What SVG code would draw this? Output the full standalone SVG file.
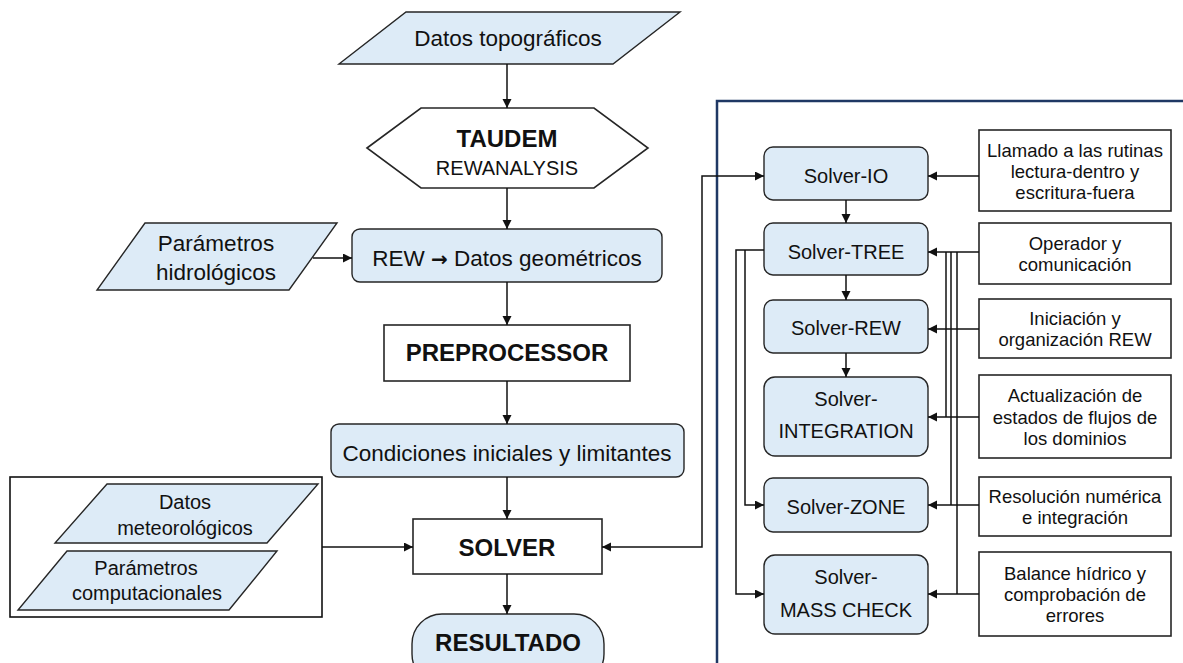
<svg xmlns="http://www.w3.org/2000/svg" width="1183" height="663" viewBox="0 0 1183 663">
<style>
.bl{fill:#DDEBF7;stroke:#262626;stroke-width:1.4}
.wh{fill:#fff;stroke:#262626;stroke-width:1.6}
.t{font-family:"Liberation Sans",Arial,sans-serif;fill:#111;text-anchor:middle}
.m{font-size:22.5px}
.g{font-size:20px}
.b{font-size:24px;font-weight:bold}
.s{font-size:20px}
.r{font-size:18.5px}
.c{fill:none;stroke:#111;stroke-width:1.5}
</style>
<defs>
<marker id="ah" markerUnits="userSpaceOnUse" markerWidth="10" markerHeight="10" refX="9" refY="4.5" orient="auto-start-reverse">
<path d="M0,0 L9,4.5 L0,9 z" fill="#111"/>
</marker>
</defs>
<rect width="1183" height="663" fill="#fff"/>
<g id="frame"><rect x="717" y="101" width="500" height="600" fill="none" stroke="#1F3864" stroke-width="2.5"/></g>

<g id="datos-topo"><polygon class="bl" points="406,12 680,12 613,64 339,64"/><text class="t m" x="508" y="46">Datos topográficos</text></g>
<g id="taudem"><polygon class="wh" points="367,148 421,108 594,108 648,148 594,188 421,188"/><text class="t b" x="507" y="147">TAUDEM</text><text class="t s" x="507" y="175">REWANALYSIS</text></g>
<g id="param-hidro"><polygon class="bl" points="145,223 337,223 289,290 97,290"/><text class="t m" x="216" y="251">Parámetros</text><text class="t m" x="216" y="280">hidrológicos</text></g>
<g id="rew"><rect class="bl" x="352" y="229" width="310" height="53" rx="8"/><text class="t m" x="507" y="266">REW <tspan font-family="'DejaVu Sans',sans-serif" font-weight="bold" font-size="20px">→</tspan> Datos geométricos</text></g>
<g id="preprocessor"><rect class="wh" x="384" y="325" width="246" height="56"/><text class="t b" x="507" y="361">PREPROCESSOR</text></g>
<g id="condiciones"><rect class="bl" x="331" y="424" width="353" height="53" rx="8"/><text class="t m" x="507" y="461">Condiciones iniciales y limitantes</text></g>
<g id="grupo-entradas"><rect x="10" y="477" width="312" height="140" fill="#fff" stroke="#111" stroke-width="1.6"/>
<g id="datos-meteo"><polygon class="bl" points="107,484 318,484 267,543 55,543"/><text class="t g" x="185" y="509">Datos</text><text class="t g" x="185" y="535">meteorológicos</text></g>
<g id="param-comp"><polygon class="bl" points="67,551 277,551 229,610 18,610"/><text class="t g" x="146" y="575">Parámetros</text><text class="t g" x="147" y="600">computacionales</text></g>
</g>
<g id="solver"><rect class="wh" x="413" y="519" width="189" height="55"/><text class="t b" x="507" y="556">SOLVER</text></g>
<g id="resultado"><rect class="bl" x="412" y="614" width="192" height="70" rx="30"/><text class="t b" x="508" y="651">RESULTADO</text></g>

<g id="solver-io"><rect class="bl" x="764" y="147" width="164" height="53" rx="9"/><text class="t s" x="846" y="183">Solver-IO</text></g>
<g id="solver-tree"><rect class="bl" x="764" y="223" width="164" height="52" rx="9"/><text class="t s" x="846" y="259">Solver-TREE</text></g>
<g id="solver-rew"><rect class="bl" x="764" y="300" width="164" height="53" rx="9"/><text class="t s" x="846" y="335">Solver-REW</text></g>
<g id="solver-integration"><rect class="bl" x="764" y="377" width="164" height="79" rx="11"/><text class="t s" x="846" y="406">Solver-</text><text class="t s" x="846" y="438">INTEGRATION</text></g>
<g id="solver-zone"><rect class="bl" x="764" y="478" width="164" height="54" rx="9"/><text class="t s" x="846" y="514">Solver-ZONE</text></g>
<g id="solver-mass"><rect class="bl" x="764" y="555" width="164" height="79" rx="11"/><text class="t s" x="846" y="584">Solver-</text><text class="t s" x="846" y="617">MASS CHECK</text></g>

<g id="desc-io"><rect class="wh" x="979" y="130" width="192" height="81"/><text class="t r" x="1075" y="157">Llamado a las rutinas</text><text class="t r" x="1075" y="178">lectura-dentro y</text><text class="t r" x="1075" y="199">escritura-fuera</text></g>
<g id="desc-tree"><rect class="wh" x="979" y="223" width="192" height="61"/><text class="t r" x="1075" y="250">Operador y</text><text class="t r" x="1075" y="271">comunicación</text></g>
<g id="desc-rew"><rect class="wh" x="979" y="299" width="192" height="59"/><text class="t r" x="1075" y="325">Iniciación y</text><text class="t r" x="1075" y="346">organización REW</text></g>
<g id="desc-integration"><rect class="wh" x="979" y="375" width="192" height="83"/><text class="t r" x="1075" y="402">Actualización de</text><text class="t r" x="1075" y="424">estados de flujos de</text><text class="t r" x="1075" y="445">los dominios</text></g>
<g id="desc-zone"><rect class="wh" x="979" y="477" width="192" height="59"/><text class="t r" x="1075" y="503">Resolución numérica</text><text class="t r" x="1075" y="524">e integración</text></g>
<g id="desc-mass"><rect class="wh" x="979" y="552" width="192" height="84"/><text class="t r" x="1075" y="580">Balance hídrico y</text><text class="t r" x="1075" y="601">comprobación de</text><text class="t r" x="1075" y="622">errores</text></g>

<g id="connectors" class="c">
<path class="c" d="M507,64 V108" marker-end="url(#ah)"/>
<path class="c" d="M507,188 V229" marker-end="url(#ah)"/>
<path class="c" d="M313,258 H352" marker-end="url(#ah)"/>
<path class="c" d="M507,282 V325" marker-end="url(#ah)"/>
<path class="c" d="M507,381 V424" marker-end="url(#ah)"/>
<path class="c" d="M507,477 V519" marker-end="url(#ah)"/>
<path class="c" d="M322,547 H413" marker-end="url(#ah)"/>
<path class="c" d="M507,574 V614" marker-end="url(#ah)"/>
<path class="c" d="M764,176 H702 V547 H602" marker-start="url(#ah)" marker-end="url(#ah)"/>
<path class="c" d="M846,200 V223" marker-end="url(#ah)"/>
<path class="c" d="M846,275 V300" marker-end="url(#ah)"/>
<path class="c" d="M846,353 V377" marker-end="url(#ah)"/>
<path class="c" d="M764,250 H736 V594 H764" marker-end="url(#ah)"/>
<path class="c" d="M745,250 V505 H764" marker-end="url(#ah)"/>
<path class="c" d="M979,176 H928" marker-end="url(#ah)"/>
<path class="c" d="M979,252 H928" marker-end="url(#ah)"/>
<path class="c" d="M979,329 H928" marker-end="url(#ah)"/>
<path class="c" d="M979,417 H928" marker-end="url(#ah)"/>
<path class="c" d="M979,505 H928" marker-end="url(#ah)"/>
<path class="c" d="M979,594 H928" marker-end="url(#ah)"/>
<path class="c" d="M946,252 V417"/>
<path class="c" d="M951,252 V505"/>
<path class="c" d="M957,252 V594"/>
</g>
</svg>
